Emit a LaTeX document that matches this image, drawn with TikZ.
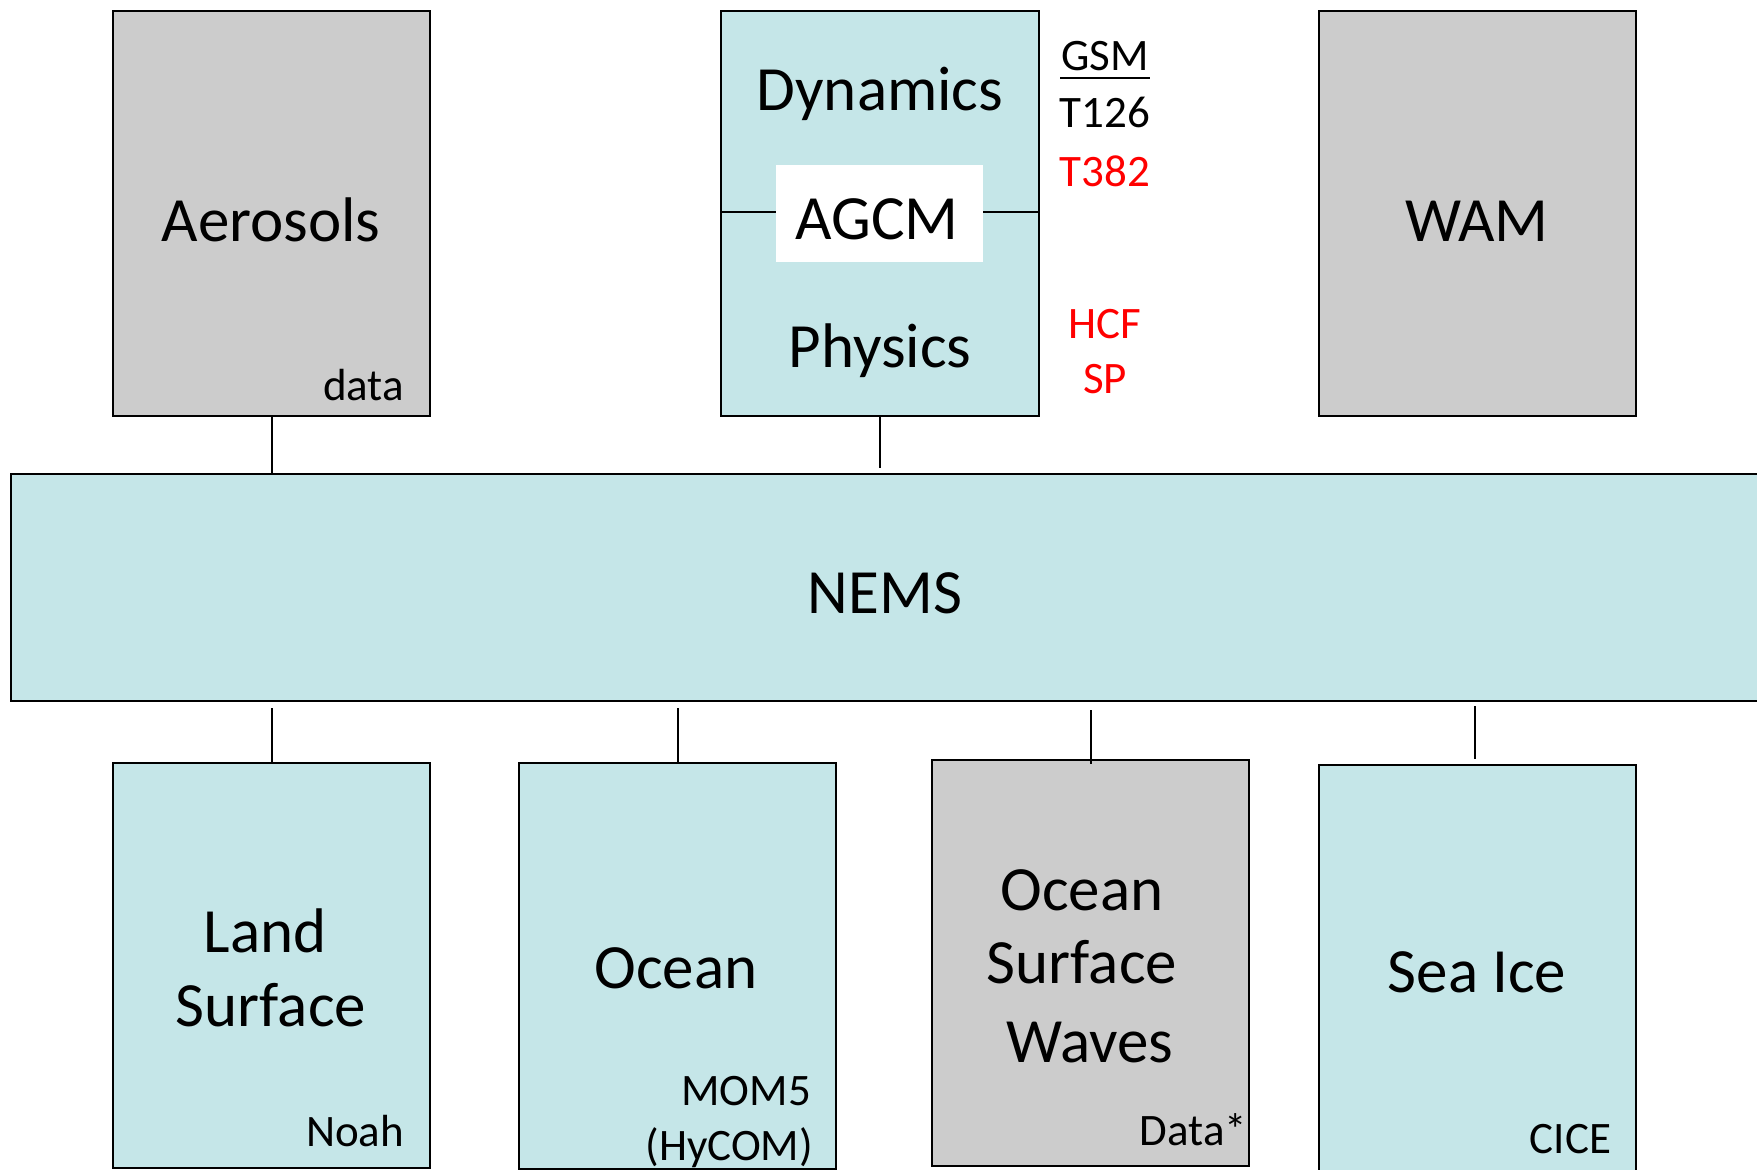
\documentclass[tikz,border=0pt]{standalone}
\usepackage{fontspec}
\setmainfont{Carlito}
\definecolor{nemsblue}{HTML}{C5E6E8}
\definecolor{datagray}{HTML}{CCCCCC}
\definecolor{resred}{HTML}{FF0000}
\begin{document}
\begin{tikzpicture}[x=1pt,y=-1pt,line width=2pt,
  box/.style={draw=black,line width=2.2pt,inner sep=0pt,anchor=north west},
  live/.style={box,fill=nemsblue},
  gray/.style={box,fill=datagray},
  big/.style={inner sep=0pt,anchor=base,font=\fontsize{63}{76}\selectfont},
  small/.style={inner sep=0pt,anchor=base east,font=\fontsize{45}{54}\selectfont},
  note/.style={inner sep=0pt,anchor=base,font=\fontsize{45}{54}\selectfont},
  link/.style={draw=black,line width=2pt}]
\useasboundingbox (0,0) rectangle (1757,1170);

% upper row of components
\node[gray,minimum width=317pt,minimum height=405pt] (aero) at (112,10) {};
\node[live,minimum width=318pt,minimum height=405pt] (agcm) at (720,10) {};
\node[gray,minimum width=317pt,minimum height=405pt] (wam) at (1318,10) {};

% coupling layer
\node[live,minimum width=1770pt,minimum height=227pt] (nems) at (10,473) {};

% lower row of components
\node[live,minimum width=317pt,minimum height=405pt] (land) at (112,762) {};
\node[live,minimum width=317pt,minimum height=406pt] (ocean) at (518,762) {};
\node[gray,minimum width=317pt,minimum height=406pt] (osw) at (931,759) {};
\node[live,minimum width=317pt,minimum height=406pt] (ice) at (1318,764) {};

% AGCM split into dynamics and physics
\coordinate (split) at (720,212);
\draw[link] (split) -- (split -| agcm.east);
\node[fill=white,inner sep=0pt,minimum width=207pt,minimum height=97pt] (agcmtag) at (879.5,213.5) {};

% connectors to the coupling layer
\draw[link] (aero.south) -- (aero.south |- nems.north);
\draw[link] (agcm.south) -- ([yshift=5pt]agcm.south |- nems.north);
\draw[link] ([yshift=-6pt]nems.south -| land.north) -- (land.north);
\draw[link] ([yshift=-6pt]nems.south -| ocean.north) -- (ocean.north);
\draw[link] ([yshift=-8pt]nems.south -| osw.north) -- ([yshift=-5pt]osw.north);
\draw[link] ([xshift=-3pt,yshift=-4pt]nems.south -| ice.north) -- ([xshift=-3pt,yshift=5pt]ice.north);

% main labels
\node[big] (aerolbl) at (271,241) {Aerosols};
\node[big] (wamlbl) at (1477,241) {WAM};
\node[big] (dynlbl) at (880,110) {Dynamics};
\node[big] (agcmlbl) at (877,239) {AGCM};
\node[big] (phylbl) at (880,367) {Physics};
\node[big] (nemslbl) at (885,613) {NEMS};
\node[big] (landlbl) at (265,952) {Land};
\node[big] (landlbl2) at (271,1026) {Surface};
\node[big] (oceanlbl) at (676,988) {Ocean};
\node[big] (oswlbl) at (1082,910) {Ocean};
\node[big] (oswlbl2) at (1082,983) {Surface};
\node[big] (oswlbl3) at (1090,1062) {Waves};
\node[big] (icelbl) at (1477,992) {Sea Ice};

% implementation notes
\node[small] (aerodata) at (405,400) {data};
\node[small] (noah) at (405,1146) {Noah};
\node[small] (mom) at (812,1105) {MOM5};
\node[small] (hycom) at (814,1160) {(HyCOM)};
\node[small] (oswdata) at (1248,1145) {Data*};
\node[small] (cice) at (1612,1153) {CICE};

% GSM resolutions and options
\node[note] (gsm) at (1105,70) {GSM};
\draw[line width=2.5pt] ([yshift=-8pt]gsm.base west) -- ([yshift=-8pt]gsm.base east);
\node[note] (t126) at (1105,127) {T126};
\node[note,text=resred] (t382) at (1105,186) {T382};
\node[note,text=resred] (hcf) at (1105,338) {HCF};
\node[note,text=resred] (sp) at (1105,393) {SP};
\end{tikzpicture}
\end{document}
